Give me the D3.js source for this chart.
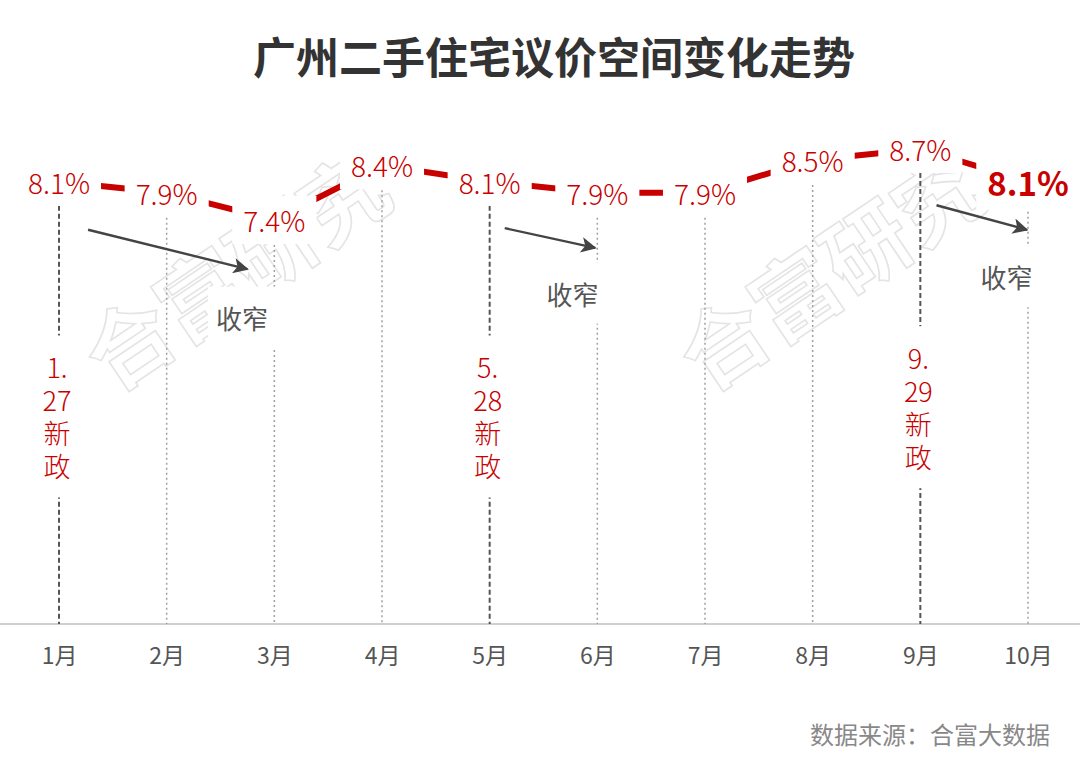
<!DOCTYPE html>
<html>
<head>
<meta charset="utf-8">
<script src="https://cdn.jsdelivr.net/npm/d3@7/dist/d3.min.js"></script>
<style>
  html, body { margin: 0; padding: 0; background: #fff; }
  svg { display: block; }
  text { font-family: "Noto Sans CJK SC", "Noto Sans", sans-serif; }
</style>
</head>
<body>
<svg id="chart" width="1080" height="762"></svg>
<script>
// ---------- data ----------
const title = "广州二手住宅议价空间变化走势";
const source = "数据来源：合富大数据";
const months = ["1月", "2月", "3月", "4月", "5月", "6月", "7月", "8月", "9月", "10月"];
const values = [8.1, 7.9, 7.4, 8.4, 8.1, 7.9, 7.9, 8.5, 8.7, 8.1];
// months with a new policy (dashed dark vertical lines)
const policyMonths = [0, 4, 8];
const policyLines = [["1.", "27", "新", "政"], ["5.", "28", "新", "政"], ["9.", "29", "新", "政"]];
const policyLabelY = [4.67, 4.67, 4.84];            // value units
// "收窄" arrows, in (month index, value) units
const arrowFrom = [[0.27, 7.22], [4.14, 7.25], [8.15, 7.67]];
const arrowTo   = [[1.75, 6.50], [4.98, 6.89], [8.99, 7.22]];
const narrowPos = [[1.70, 5.62], [4.77, 6.06], [8.80, 6.36]];
const narrowText = "收窄";
const watermarkText = "合富研究";
const watermarkPos = [[1.62, 6.54], [7.14, 6.54]];

// ---------- layout ----------
const W = 1080, H = 762;
const svg = d3.select("#chart");
const RED = "#c80000";

const x = d3.scalePoint().domain(months).range([59, 1028]);
const xi = d3.scaleLinear().domain([0, months.length - 1]).range([59, 1028]);
const y = d3.scaleLinear().domain([0, 10]).range([624, 78]);
const baseY = y(0);

// background
svg.append("rect").attr("width", W).attr("height", H).attr("fill", "#fff");

// watermark
const wm = svg.append("g");
watermarkPos.forEach(p => {
  wm.append("text")
    .attr("transform", `translate(${xi(p[0])},${y(p[1])}) rotate(-34)`)
    .attr("text-anchor", "middle")
    .attr("dominant-baseline", "central")
    .attr("font-size", 86)
    .attr("font-weight", 700)
    .attr("fill", "none")
    .attr("stroke", "#e4e4e4")
    .attr("stroke-width", 1.6)
    .text(watermarkText);
});

// title
svg.append("text")
  .attr("x", 554).attr("y", 55)
  .attr("text-anchor", "middle").attr("dominant-baseline", "central")
  .attr("font-size", 43).attr("font-weight", 700).attr("fill", "#333")
  .text(title);

// baseline axis
const axis = d3.axisBottom(x).tickSize(0).tickPadding(24);
const axG = svg.append("g").attr("transform", `translate(0,${baseY})`).call(axis);
axG.select(".domain").remove();
axG.selectAll("text").attr("font-size", 23).attr("fill", "#555")
  .attr("font-family", '"Noto Sans CJK SC", sans-serif');
svg.append("line").attr("x1", 0).attr("x2", W).attr("y1", baseY).attr("y2", baseY)
  .attr("stroke", "#cfcfcf").attr("stroke-width", 2);

// vertical lines
months.forEach((m, i) => {
  const isPolicy = policyMonths.includes(i);
  svg.append("line")
    .attr("x1", x(m)).attr("x2", x(m))
    .attr("y1", y(values[i])).attr("y2", baseY)
    .attr("stroke", isPolicy ? "#555" : "#a0a0a0")
    .attr("stroke-width", isPolicy ? 2 : 1.5)
    .attr("stroke-dasharray", isPolicy ? "5,3" : "2,3");
});

// red line
const line = d3.line().x((d, i) => x(months[i])).y(d => y(d));
svg.append("path").datum(values).attr("d", line)
  .attr("fill", "none").attr("stroke", RED).attr("stroke-width", 6);

// helper: white box behind a text
function boxed(g, padX, padY) {
  const t = g.select("text").node();
  const b = t.getBBox();
  g.insert("rect", "text")
    .attr("x", b.x - padX).attr("y", b.y - padY)
    .attr("width", b.width + 2 * padX).attr("height", b.height + 2 * padY)
    .attr("fill", "#fff");
}

// value labels
values.forEach((v, i) => {
  const last = i === values.length - 1;
  const g = svg.append("g");
  g.append("text")
    .attr("x", x(months[i])).attr("y", y(v))
    .attr("text-anchor", "middle").attr("dominant-baseline", "central")
    .attr("font-size", last ? 33 : 28)
    .attr("font-weight", last ? 700 : 300)
    .attr("fill", RED)
    .text(v.toFixed(1) + "%");
  boxed(g, 11, 4);
});

// policy labels
policyMonths.forEach((mi, k) => {
  const g = svg.append("g");
  const t = g.append("text")
    .attr("x", x(months[mi]) - 2).attr("y", y(policyLabelY[k]))
    .attr("text-anchor", "middle")
    .attr("font-size", 27).attr("font-weight", 300).attr("fill", RED);
  policyLines[k].forEach((s, j) => {
    t.append("tspan").attr("x", x(months[mi]) - 2)
      .attr("dy", j === 0 ? "0.35em" : 33)
      .text(s);
  });
  boxed(g, 10, 12);
});

// arrows
const defs = svg.append("defs");
defs.append("marker").attr("id", "ah")
  .attr("viewBox", "0 0 10 10").attr("refX", 9).attr("refY", 5)
  .attr("markerWidth", 7.5).attr("markerHeight", 6.5)
  .attr("markerUnits", "strokeWidth").attr("orient", "auto")
  .append("path").attr("d", "M0,0 L10,5 L0,10 L2.5,5 Z").attr("fill", "#444");

arrowFrom.forEach((a, k) => {
  const b = arrowTo[k];
  svg.append("line")
    .attr("x1", xi(a[0])).attr("y1", y(a[1]))
    .attr("x2", xi(b[0])).attr("y2", y(b[1]))
    .attr("stroke", "#444").attr("stroke-width", 2.4)
    .attr("marker-end", "url(#ah)");
});

// "收窄" labels
narrowPos.forEach(p => {
  const g = svg.append("g");
  g.append("text")
    .attr("x", xi(p[0])).attr("y", y(p[1]))
    .attr("text-anchor", "middle").attr("dominant-baseline", "central")
    .attr("font-size", 26).attr("fill", "#555")
    .text(narrowText);
  boxed(g, 8, 12);
});

// source
svg.append("text")
  .attr("x", 1050).attr("y", 733)
  .attr("text-anchor", "end").attr("dominant-baseline", "central")
  .attr("font-size", 24).attr("fill", "#888")
  .text(source);
</script>
</body>
</html>
